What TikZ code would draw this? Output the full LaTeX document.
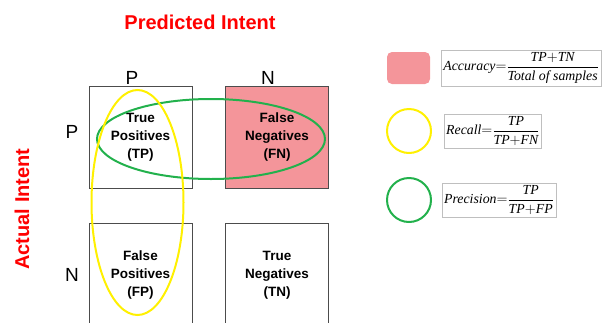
\documentclass[tikz,border=0pt]{standalone}
\usepackage{amsmath}
\usepackage{fontspec}
\setmainfont{Liberation Sans}
\newfontfamily\formfont{Liberation Serif}
\usetikzlibrary{positioning}

\definecolor{fnpink}{HTML}{F4959A}
\definecolor{recallyellow}{HTML}{FFF000}
\definecolor{precgreen}{HTML}{22B14C}

% italic serif words inside the formulas
\newcommand{\fw}[1]{\text{\formfont\itshape #1}}

\tikzset{
  cell/.style={draw=black!70, minimum width=103pt, minimum height=102pt, inner sep=0pt,
    align=center, font=\fontsize{13.5}{18}\selectfont\bfseries},
  axislabel/.style={font=\fontsize{19}{19}\selectfont},
  heading/.style={text=red, font=\fontsize{20}{20}\selectfont\bfseries},
  formula/.style={draw=black!25, fill=white, inner sep=2pt, font=\fontsize{13.8}{14}\selectfont},
  key/.style={minimum size=44pt, inner sep=0pt},
}

\begin{document}
\begin{tikzpicture}[x=1pt,y=-1pt]
  \clip (0,0) rectangle (602,322);
  % headings
  \node[heading] (pred) at (200,22) {Predicted Intent};
  \node[heading, rotate=90] (act) at (22,209) {Actual Intent};
  % matrix cells
  \node[cell] (tp) at (140.5,137) {True\\Positives\\(TP)};
  \node[cell, fill=fnpink] (fn) at (277,137) {False\\Negatives\\(FN)};
  \node[cell, minimum height=104pt] (fp) at (140.5,275) {False\\Positives\\(FP)};
  \node[cell, minimum height=104pt] (tn) at (277,275) {True\\Negatives\\(TN)};
  % row and column labels
  \node[axislabel] (colp) at (132,78) {P};
  \node[axislabel] (coln) at (268,78) {N};
  \node[axislabel] (rowp) at (72,132) {P};
  \node[axislabel] (rown) at (72,275) {N};
  % recall and precision rings
  \draw[precgreen, line width=2pt] (211,139) ellipse [x radius=114, y radius=40];
  \draw[recallyellow, line width=2pt] (137.5,202.5) ellipse [x radius=46, y radius=112.5];
  % legend
  \node[key, fill=fnpink, rounded corners=5pt, minimum width=43pt, minimum height=32pt] (acckey) at (408.5,68) {};
  \node[key, circle, draw=recallyellow, line width=2pt] (reckey) at (409,131) {};
  \node[key, circle, draw=precgreen, line width=2pt] (preckey) at (409,200) {};
  \node[formula, right=11pt of acckey] (accform)
    {$\fw{Accuracy}{=}\dfrac{\fw{TP}{+}\fw{TN}}{\fw{Total of samples}}$};
  \node[formula, right=12pt of reckey] (recform)
    {$\fw{Recall}{=}\dfrac{\fw{TP}}{\fw{TP}{+}\fw{FN}}$};
  \node[formula, right=10pt of preckey] (precform)
    {$\fw{Precision}{=}\dfrac{\fw{TP}}{\fw{TP}{+}\fw{FP}}$};
\end{tikzpicture}
\end{document}
